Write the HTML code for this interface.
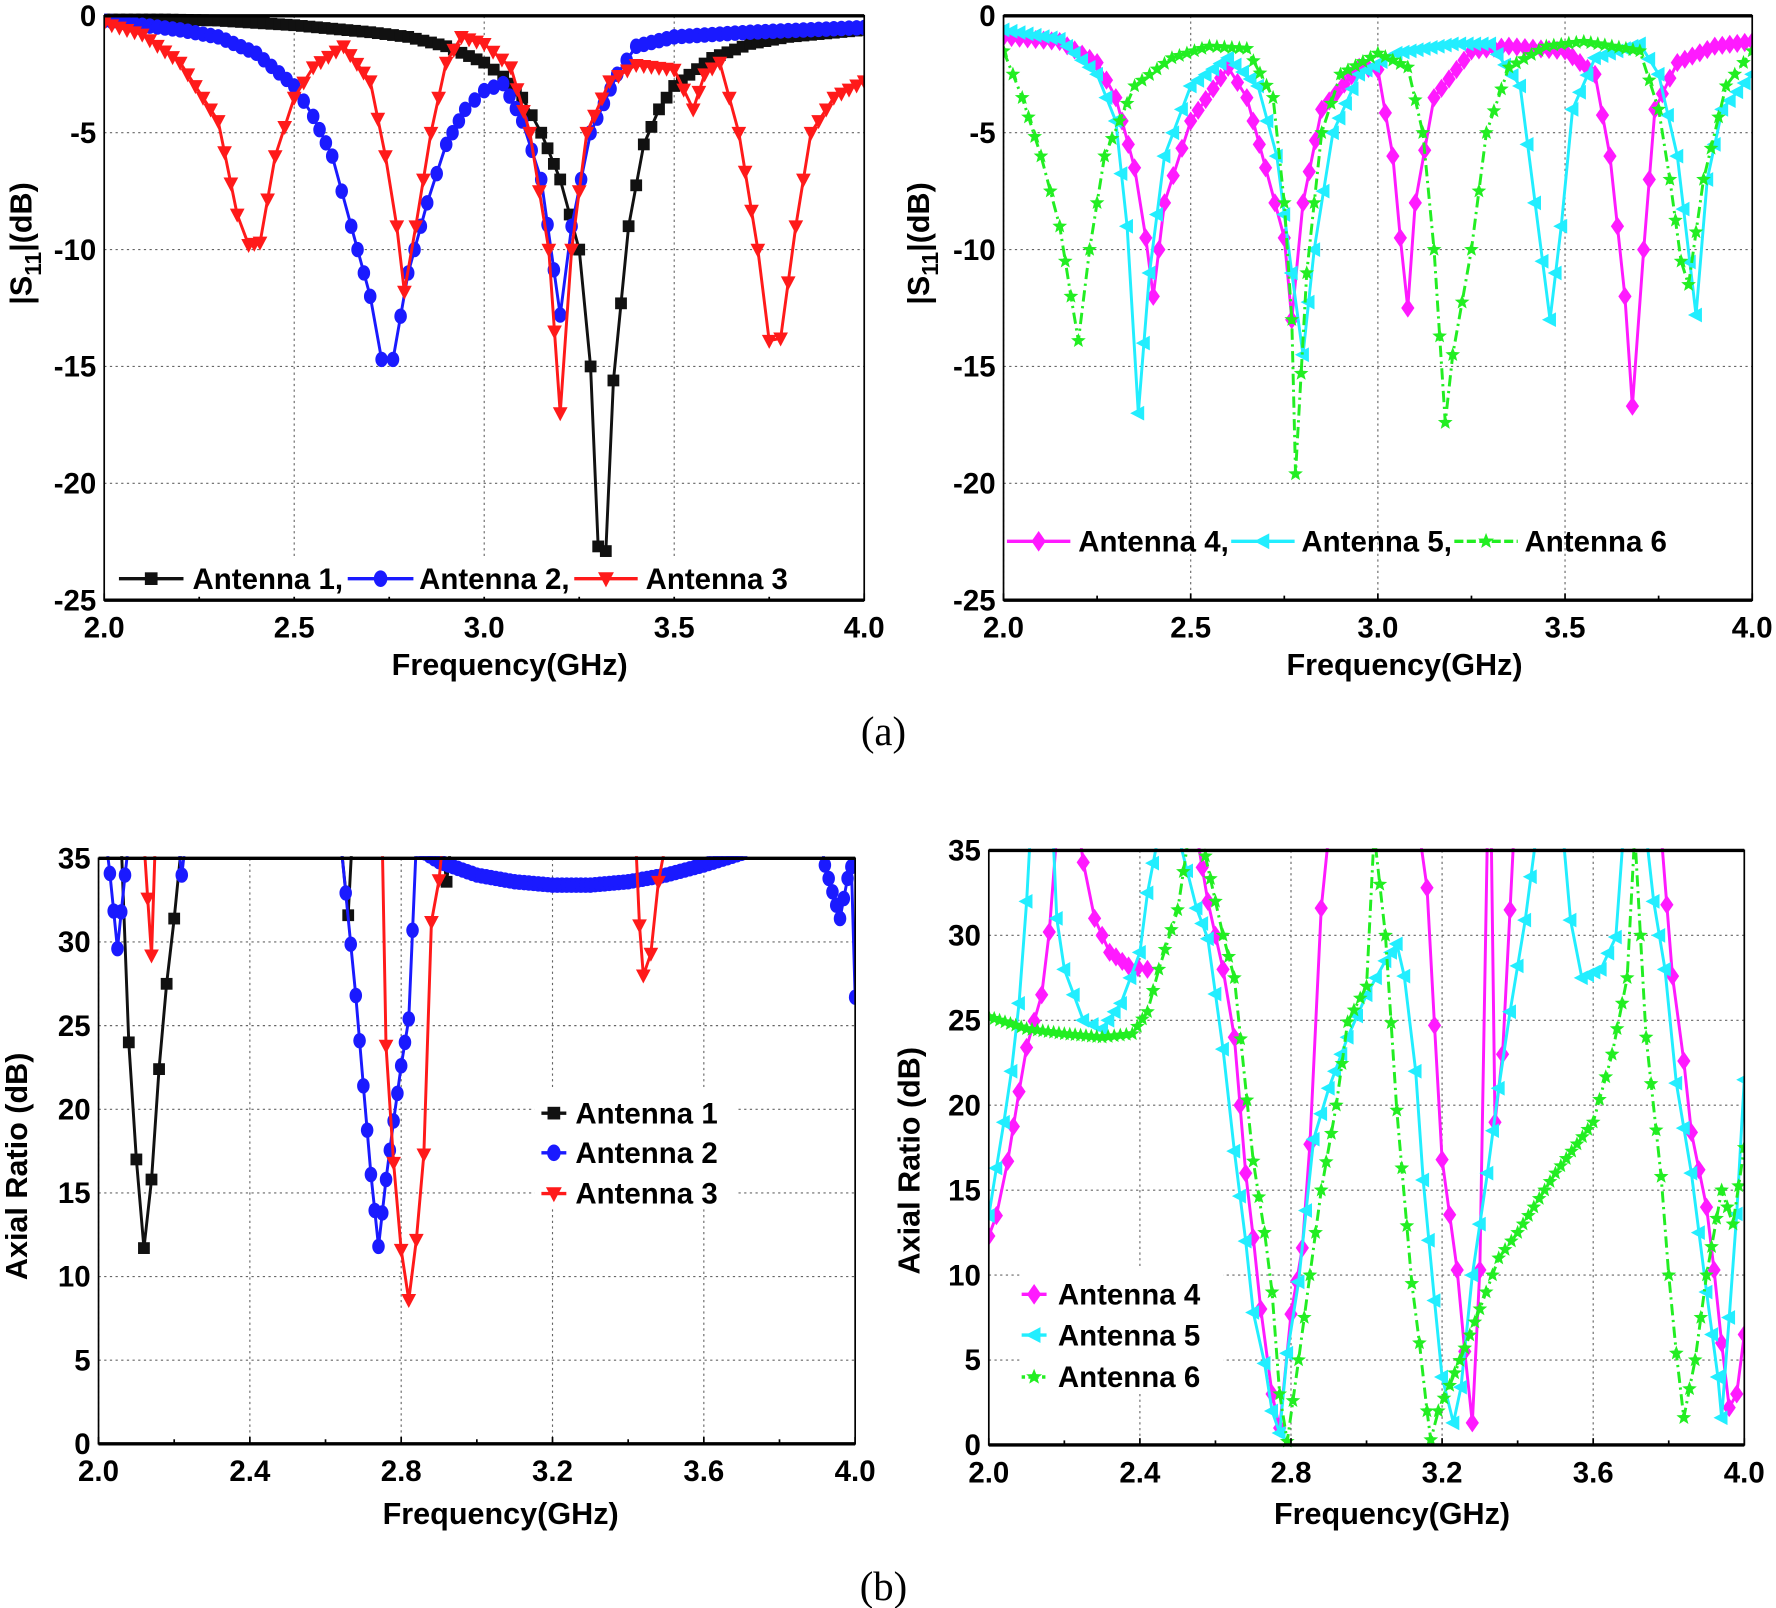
<!DOCTYPE html>
<html><head><meta charset="utf-8"><style>
html,body{margin:0;padding:0;background:#fff}
svg{display:block}
text{font-family:"Liberation Sans",Arial,sans-serif;font-weight:bold;fill:#000}
</style></head><body>
<svg id="s" width="1776" height="1608" viewBox="0 0 1568 1420" preserveAspectRatio="none" xmlns="http://www.w3.org/2000/svg"></svg>
<script>
const S=document.getElementById('s');const NS='http://www.w3.org/2000/svg';
function el(t,a,p){const e=document.createElementNS(NS,t);for(const k in a)e.setAttribute(k,a[k]);(p||S).appendChild(e);return e;}
function txt(x,y,s,a){const t=el('text',Object.assign({x:x,y:y},a||{}));t.textContent=s;return t;}
let cid=0;
function panel(P){
 const X=f=>P.x0+(f-2)/2*(P.x1-P.x0), Y=v=>P.yb+(v-P.vmin)/(P.vmax-P.vmin)*(P.yt-P.yb);
 P.X=X;P.Y=Y;
 for(const f of P.xt){const x=X(f);el('line',{x1:x,x2:x,y1:P.yt,y2:P.yb,stroke:'#666','stroke-width':1,'stroke-dasharray':'2,3'});}
 for(const v of P.yv){const y=Y(v);el('line',{x1:P.x0,x2:P.x1,y1:y,y2:y,stroke:'#666','stroke-width':1,'stroke-dasharray':'2,3'});}
 const id='c'+(cid++);const cp=el('clipPath',{id:id});el('rect',{x:P.x0,y:P.yt-2,width:P.x1-P.x0,height:P.yb-P.yt+4},cp);
 const g=el('g',{'clip-path':'url(#'+id+')'});P.g=g;
 return P;
}
function frame(P){
 el('rect',{x:P.x0,y:P.yt,width:P.x1-P.x0,height:P.yb-P.yt,fill:'none',stroke:'#000','stroke-width':1.5});
 el('line',{x1:P.x0,x2:P.x1,y1:P.yt,y2:P.yt,stroke:'#000','stroke-width':3});
 el('line',{x1:P.x0,x2:P.x1,y1:P.yb,y2:P.yb,stroke:'#000','stroke-width':3});
 for(let i=0;i<P.xt.length;i++){const x=P.X(P.xt[i]);txt(x,P.yb+33,P.xl[i],{'font-size':26,'text-anchor':'middle'});
  el('line',{x1:x,x2:x,y1:P.yb,y2:P.yb-6,stroke:'#000','stroke-width':1.5});
  if(i<P.xt.length-1){const xm=P.X((P.xt[i]+P.xt[i+1])/2);el('line',{x1:xm,x2:xm,y1:P.yb,y2:P.yb-4,stroke:'#000','stroke-width':1.5});}}
 for(const v of P.yv){txt(P.x0-7,P.Y(v)+9,String(v),{'font-size':26,'text-anchor':'end'});}
}
function marker(g,type,x,y,c,sz){
 const s=sz||6.5;
 if(type=='sq')el('rect',{x:x-s*0.8,y:y-s*0.8,width:s*1.6,height:s*1.6,fill:c},g);
 else if(type=='ci')el('ellipse',{cx:x,cy:y,rx:s*0.85,ry:s*1.05,fill:c},g);
 else if(type=='dt')el('polygon',{points:`${x-s},${y-s*0.8} ${x+s},${y-s*0.8} ${x},${y+s*1.1}`,fill:c},g);
 else if(type=='di')el('polygon',{points:`${x},${y-s*1.3} ${x+s*0.9},${y} ${x},${y+s*1.3} ${x-s*0.9},${y}`,fill:c},g);
 else if(type=='lt')el('polygon',{points:`${x-s*1.1},${y} ${x+s*0.8},${y-s} ${x+s*0.8},${y+s}`,fill:c},g);
 else if(type=='st'){let p=[];for(let i=0;i<10;i++){const r=i%2?s*0.45:s*1.05,a=-Math.PI/2+i*Math.PI/5;p.push((x+r*Math.cos(a)).toFixed(1)+','+(y+r*Math.sin(a)).toFixed(1));}el('polygon',{points:p.join(' '),fill:c},g);}
}
function series(P,pts,c,mk,dash,step){
 for(const seg of pts){
  const d=seg.map((p,i)=>(i?'L':'M')+P.X(p[0]).toFixed(1)+','+P.Y(p[1]).toFixed(1)).join('');
  const a={d:d,fill:'none',stroke:c,'stroke-width':2.6,'stroke-linejoin':'round'};if(dash)a['stroke-dasharray']=dash;
  el('path',a,P.g);
  const st=step||0.02;
  for(let i=0;i<seg.length;i++){
   marker(P.g,mk,P.X(seg[i][0]),P.Y(seg[i][1]),c);
   if(i<seg.length-1){const [f0,v0]=seg[i],[f1,v1]=seg[i+1];const n=Math.round((f1-f0)/st);
    for(let k=1;k<n;k++){const t=k/n;marker(P.g,mk,P.X(f0+(f1-f0)*t),P.Y(v0+(v1-v0)*t),c);}}
  }
 }
}
function legLine(x1,x2,y,c,mk,dash,tx,label){
 const a={x1:x1,x2:x2,y1:y,y2:y,stroke:c,'stroke-width':3};if(dash)a['stroke-dasharray']=dash;el('line',a);
 marker(S,mk,(x1+x2)/2,y,c,7);txt(tx,y+9,label,{'font-size':26});
}
const xlS=['2.0','2.5','3.0','3.5','4.0'],xtS=[2,2.5,3,3.5,4];
const xlA=['2.0','2.4','2.8','3.2','3.6','4.0'],xtA=[2,2.4,2.8,3.2,3.6,4];
const yS=[0,-5,-10,-15,-20,-25],yA=[35,30,25,20,15,10,5,0];
const BK='#111',BL='#1a1aff',RD='#ff1a1a',MG='#ff1aff',CY='#22eeff',GR='#22ee22';
const A=panel({x0:92,x1:763,yt:14,yb:530,vmin:-25,vmax:0,xt:xtS,xl:xlS,yv:yS});
series(A,[[[2,-0.1],[2.3,-0.2],[2.5,-0.4],[2.7,-0.7],[2.8,-0.9],[2.9,-1.3],[3.0,-2.0],[3.05,-2.6],[3.1,-3.5],[3.15,-5],[3.2,-7],[3.25,-10],[3.28,-15],[3.3,-22.7],[3.32,-22.9],[3.34,-15.6],[3.38,-9],[3.42,-5.5],[3.46,-4],[3.5,-3],[3.6,-1.8],[3.7,-1.2],[3.8,-0.9],[4.0,-0.6]]],BK,'sq');
series(A,[[[2,-0.2],[2.2,-0.6],[2.3,-0.9],[2.4,-1.6],[2.5,-3],[2.55,-4.3],[2.6,-6],[2.65,-9],[2.7,-12],[2.73,-14.7],[2.76,-14.7],[2.8,-11],[2.85,-8],[2.9,-5.5],[2.95,-4],[3.0,-3.2],[3.05,-2.9],[3.1,-4.5],[3.15,-7],[3.2,-12.8],[3.23,-9],[3.28,-5],[3.35,-2.5],[3.4,-1.3],[3.5,-0.9],[3.7,-0.7],[4,-0.5]]],BL,'ci');
series(A,[[[2,-0.3],[2.1,-0.8],[2.2,-2],[2.3,-4.5],[2.35,-8.5],[2.38,-9.8],[2.41,-9.7],[2.45,-6],[2.5,-3.5],[2.55,-2.2],[2.63,-1.3],[2.7,-2.8],[2.74,-6],[2.77,-9],[2.79,-11.8],[2.82,-9],[2.86,-5],[2.9,-2],[2.94,-0.9],[3.0,-1.2],[3.07,-2.2],[3.12,-5],[3.17,-10],[3.2,-17],[3.23,-10],[3.27,-5],[3.33,-2.8],[3.4,-2.1],[3.5,-2.3],[3.55,-4],[3.58,-2.5],[3.62,-2],[3.67,-5],[3.72,-10],[3.75,-13.9],[3.78,-13.8],[3.82,-9],[3.86,-5],[3.92,-3.5],[4,-2.8]]],RD,'dt');
frame(A);
el('rect',{x:100,y:493,width:610,height:34,fill:'#fff'});
legLine(105,162,511,BK,'sq',0,170,'Antenna 1,');legLine(307,365,511,BL,'ci',0,370,'Antenna 2,');legLine(507,563,511,RD,'dt',0,570,'Antenna 3');
const B=panel({x0:886,x1:1547,yt:14,yb:530,vmin:-25,vmax:0,xt:xtS,xl:xlS,yv:yS});
series(B,[[[2,-0.9],[2.15,-1.1],[2.25,-2],[2.3,-3.5],[2.35,-6.5],[2.38,-9.5],[2.4,-12],[2.43,-8],[2.5,-4.5],[2.6,-2.2],[2.65,-3.5],[2.7,-6.5],[2.75,-9.5],[2.77,-13],[2.8,-8],[2.85,-4],[2.95,-2.2],[3.0,-2.3],[3.04,-6],[3.06,-9.5],[3.08,-12.5],[3.1,-8],[3.15,-3.5],[3.25,-1.5],[3.35,-1.3],[3.5,-1.5],[3.58,-2.5],[3.62,-6],[3.66,-12],[3.68,-16.7],[3.71,-10],[3.74,-4],[3.8,-2],[3.9,-1.3],[4,-1.1]]],MG,'di');
series(B,[[[2,-0.6],[2.15,-1],[2.25,-2.5],[2.3,-4.5],[2.33,-9],[2.36,-17],[2.39,-11],[2.43,-6],[2.5,-3],[2.6,-1.8],[2.68,-3],[2.73,-6],[2.77,-11],[2.8,-14.5],[2.83,-10],[2.88,-5],[2.95,-2.5],[3.05,-1.6],[3.2,-1.2],[3.3,-1.2],[3.38,-3],[3.42,-8],[3.46,-13],[3.49,-9],[3.52,-4],[3.58,-1.8],[3.7,-1.2],[3.75,-2.5],[3.8,-6],[3.85,-12.8],[3.88,-7],[3.92,-4],[4,-2.5]]],CY,'lt');
series(B,[[[2,-1.5],[2.05,-3.5],[2.1,-6],[2.15,-9],[2.18,-12],[2.2,-13.9],[2.23,-10],[2.27,-6],[2.35,-3],[2.45,-1.8],[2.55,-1.3],[2.65,-1.4],[2.72,-3.5],[2.75,-8],[2.77,-13],[2.78,-19.6],[2.81,-11],[2.85,-5],[2.9,-2.5],[3.0,-1.6],[3.08,-2.2],[3.12,-5],[3.15,-10],[3.18,-17.4],[3.2,-14.5],[3.25,-10],[3.29,-5],[3.35,-2.2],[3.45,-1.3],[3.55,-1.1],[3.7,-1.5],[3.75,-4],[3.78,-7],[3.81,-10.5],[3.83,-11.5],[3.87,-7],[3.93,-3],[4,-1.5]]],GR,'st','10,4,2,4');
frame(B);
legLine(889,945,478,MG,'di',0,952,'Antenna 4,');legLine(1087,1143,478,CY,'lt',0,1149,'Antenna 5,');legLine(1284,1340,478,GR,'st','8,3',1346,'Antenna 6');
const C=panel({x0:87,x1:755,yt:758,yb:1275,vmin:0,vmax:35,xt:xtA,xl:xlA,yv:yA});
series(C,[[[2.06,36],[2.08,24],[2.10,17],[2.12,11.7],[2.14,15.8],[2.16,22.4],[2.18,27.5],[2.2,31.4],[2.22,36]],[[2.64,36],[2.66,31.6],[2.67,36]],[[2.91,35.5],[2.92,33.6],[2.93,35.5]]],BK,'sq');
series(C,[[[2.02,36],[2.03,34.1],[2.05,29.6],[2.07,34],[2.08,36]],[[2.21,36],[2.22,34],[2.23,36]],[[2.64,36],[2.68,26.8],[2.7,21.4],[2.72,16.1],[2.74,11.8],[2.76,15.8],[2.78,19.3],[2.8,22.6],[2.82,25.4],[2.84,36]],[[2.85,35.5],[2.9,34.8],[3.0,34.0],[3.1,33.6],[3.2,33.4],[3.3,33.4],[3.4,33.6],[3.5,34.0],[3.6,34.6],[3.7,35.3]],[[3.91,36],[3.92,34.6],[3.94,33],[3.96,31.4],[3.98,33.8],[3.99,34.5],[4.0,26.7]]],BL,'ci',0,0.012);
series(C,[[[2.12,36],[2.13,32.6],[2.14,29.2],[2.15,36]],[[2.75,36],[2.76,23.8],[2.78,16.8],[2.80,11.6],[2.82,8.6],[2.84,12.2],[2.86,17.3],[2.88,31.2],[2.90,33.7],[2.91,36]],[[3.42,36],[3.43,31],[3.44,28],[3.46,29.3],[3.48,33.6],[3.5,36]]],RD,'dt');
frame(C);
el('rect',{x:472,y:960,width:180,height:105,fill:'#fff'});
legLine(478,500,983,BK,'sq',0,508,'Antenna 1');legLine(478,500,1018,BL,'ci',0,508,'Antenna 2');legLine(478,500,1054,RD,'dt',0,508,'Antenna 3');
const D=panel({x0:873,x1:1540,yt:751,yb:1276,vmin:0,vmax:35,xt:xtA,xl:xlA,yv:yA});
series(D,[[[2.0,12.3],[2.02,13.5],[2.05,16.7],[2.08,20.8],[2.1,23.4],[2.14,26.5],[2.16,30.2],[2.18,36]],[[2.24,36],[2.25,34.3],[2.28,31],[2.32,29],[2.37,28.2],[2.42,28]],[[2.55,36],[2.58,32],[2.62,28],[2.65,24],[2.68,16],[2.7,12.2],[2.72,8],[2.75,3],[2.77,1],[2.8,7.7],[2.83,11.6],[2.85,17.7],[2.88,31.6],[2.9,36]],[[3.14,36],[3.16,32.8],[3.18,24.7],[3.2,16.8],[3.24,10.3],[3.26,5.5],[3.28,1.3],[3.3,10.3],[3.32,36]],[[3.33,36],[3.34,19],[3.36,23],[3.38,31.5],[3.39,36]],[[3.78,36],[3.81,27.6],[3.84,22.6],[3.86,18.4],[3.9,14],[3.92,10.3],[3.94,6],[3.96,2.2],[3.98,3],[4.0,6.5]]],MG,'di');
series(D,[[[2.0,13.5],[2.02,16.3],[2.04,19],[2.06,22],[2.08,26],[2.1,32],[2.11,36]],[[2.17,36],[2.18,31],[2.2,28],[2.25,25],[2.3,24.5],[2.35,26],[2.4,29],[2.42,32.5],[2.45,36]],[[2.5,36],[2.55,31.6],[2.58,29.8],[2.62,23.3],[2.65,17.3],[2.68,12],[2.7,7.8],[2.73,4.8],[2.75,2],[2.77,0.7],[2.79,5.4],[2.82,9.6],[2.86,18],[2.9,21],[2.95,24],[3.0,26.5],[3.05,28.5],[3.08,29.5],[3.1,27.6],[3.13,22],[3.15,15.6],[3.18,8.5],[3.2,4],[3.23,1.3],[3.25,3.4],[3.28,10],[3.32,16],[3.35,21],[3.38,25.5],[3.42,30.9],[3.45,36]],[[3.52,36],[3.54,30.9],[3.57,27.5],[3.62,28],[3.66,29.9],[3.68,36]],[[3.74,36],[3.76,32],[3.79,28],[3.82,21.3],[3.86,16],[3.9,9],[3.93,4],[3.94,1.6],[3.96,7.5],[3.98,13.6],[4.0,21.5]]],CY,'lt');
series(D,[[[2.0,25.2],[2.1,24.5],[2.2,24.2],[2.3,24],[2.38,24.2],[2.42,25.5],[2.45,28],[2.5,31.5],[2.53,36]],[[2.56,36],[2.6,32],[2.62,30],[2.65,27.5],[2.7,16.7],[2.73,12.5],[2.75,9],[2.77,3],[2.79,0.2],[2.82,5],[2.85,10],[2.88,15],[2.92,20],[2.95,24.9],[3.0,27],[3.02,36],[3.05,30],[3.08,19.7],[3.12,9.5],[3.14,6],[3.16,2],[3.17,0.3],[3.19,2],[3.22,3.5],[3.26,5.7],[3.3,8],[3.35,11],[3.4,12.5],[3.5,16],[3.6,19],[3.65,23],[3.69,27.5],[3.71,36],[3.74,24],[3.78,15.8],[3.80,10],[3.82,5.4],[3.84,1.6],[3.87,5],[3.9,10],[3.94,15],[3.97,13],[4.0,17.5]]],GR,'st','10,4,2,4',0.015);
frame(D);
el('rect',{x:900,y:1120,width:180,height:110,fill:'#fff'});
legLine(902,924,1143,MG,'di',0,934,'Antenna 4');legLine(902,924,1179,CY,'lt',0,934,'Antenna 5');legLine(902,924,1216,GR,'st','3,3',934,'Antenna 6');
function ytitle(x,y,parts){const t=el('text',{x:0,y:0,'font-size':27,'text-anchor':'middle',transform:`translate(${x},${y}) rotate(-90)`});for(const p of parts){const ts=el('tspan',p.a||{},t);ts.textContent=p.s;}}
ytitle(28,215,[{s:'|S'},{s:'11',a:{'font-size':20,dy:8}},{s:'|(dB)',a:{dy:-8}}]);
ytitle(820,215,[{s:'|S'},{s:'11',a:{'font-size':20,dy:8}},{s:'|(dB)',a:{dy:-8}}]);
ytitle(24,1030,[{s:'Axial Ratio (dB)'}]);
ytitle(812,1025,[{s:'Axial Ratio (dB)'}]);
txt(450,596,'Frequency(GHz)',{'font-size':27,'text-anchor':'middle'});
txt(1240,596,'Frequency(GHz)',{'font-size':27,'text-anchor':'middle'});
txt(442,1346,'Frequency(GHz)',{'font-size':27,'text-anchor':'middle'});
txt(1229,1346,'Frequency(GHz)',{'font-size':27,'text-anchor':'middle'});
txt(780,658,'(a)',{'font-size':36,'text-anchor':'middle',style:'font-family:"Liberation Serif",serif;font-weight:normal'});
txt(780,1413,'(b)',{'font-size':36,'text-anchor':'middle',style:'font-family:"Liberation Serif",serif;font-weight:normal'});
</script>
</body></html>
